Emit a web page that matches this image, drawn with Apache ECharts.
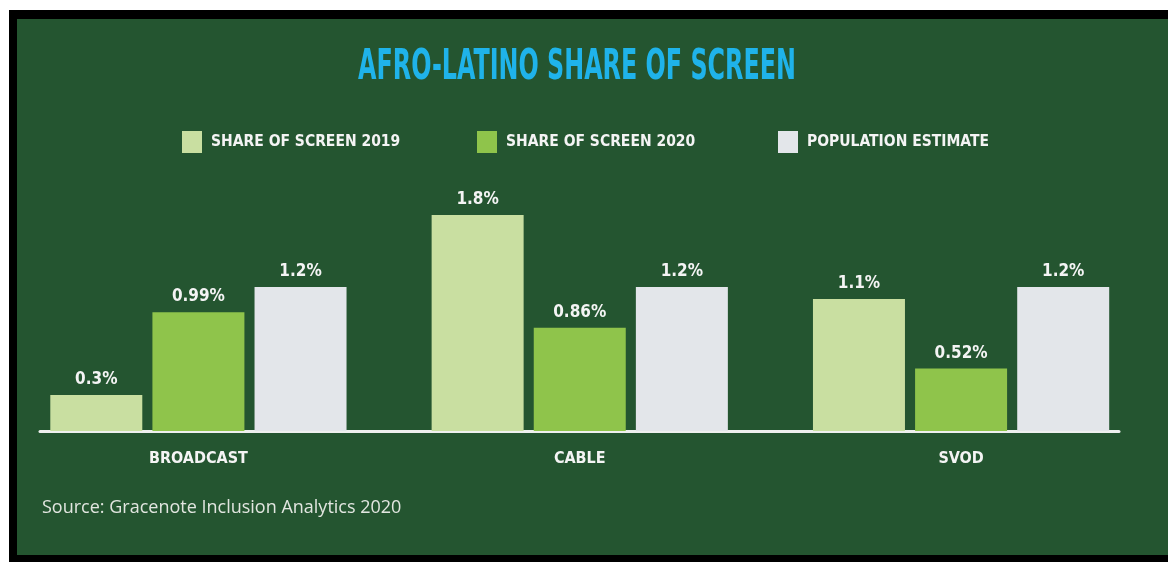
<!DOCTYPE html>
<html>
<head>
<meta charset="utf-8">
<script src="https://cdn.jsdelivr.net/npm/echarts@6/dist/echarts.min.js"></script>
<style>
html,body{margin:0;padding:0;background:#fff;}
#chart{width:1168px;height:562px;}
</style>
</head>
<body>
<div id="chart"></div>
<script>
const titleText = 'AFRO-LATINO SHARE OF SCREEN';
const sourceText = 'Source: Gracenote Inclusion Analytics 2020';
const categories = ['BROADCAST', 'CABLE', 'SVOD'];
const seriesNames = ['SHARE OF SCREEN 2019', 'SHARE OF SCREEN 2020', 'POPULATION ESTIMATE'];
const share2019 = [0.3, 1.8, 1.1];
const share2020 = [0.99, 0.86, 0.52];
const population = [1.2, 1.2, 1.2];

const NARROW = '"Liberation Sans Narrow","DejaVu Sans Condensed","Roboto Condensed",sans-serif';
const BG = '#245530';
const colors = ['#c9dfa1', '#8fc44b', '#e3e6ea'];
const seriesData = [share2019, share2020, population];

const chart = echarts.init(document.getElementById('chart'));

const legendLeft = [177, 472, 773];
const legends = seriesNames.map((n, i) => ({
  data: [n],
  left: legendLeft[i],
  top: 126,
  icon: 'rect',
  itemWidth: 20,
  itemHeight: 22,
  selectedMode: false,
  textStyle: {
    color: '#f4f4f4',
    fontFamily: NARROW,
    fontWeight: 'bold',
    fontSize: 15.5,
    padding: [0, 0, 0, 4]
  }
}));

const series = seriesNames.map((n, i) => ({
  name: n,
  type: 'bar',
  xAxisIndex: 0,
  yAxisIndex: 0,
  data: seriesData[i],
  barWidth: 92,
  barGap: '11%',
  itemStyle: { color: colors[i] },
  label: {
    show: true,
    position: 'top',
    distance: 7,
    formatter: p => p.value + '%',
    color: '#f4f4f4',
    fontFamily: NARROW,
    fontWeight: 'bold',
    fontSize: 17
  }
}));

chart.setOption({
  backgroundColor: '#ffffff',
  animation: false,
  graphic: [
    { type: 'rect', z: -10, shape: { x: 9, y: 10, width: 1159, height: 552 }, style: { fill: '#000' } },
    { type: 'rect', z: -9, shape: { x: 17, y: 19, width: 1151, height: 536 }, style: { fill: BG } },
    {
      type: 'text', x: 577, y: 68, scaleY: 1.6,
      style: {
        text: titleText, x: 0, y: 0,
        align: 'center', verticalAlign: 'middle',
        textAlign: 'center', textVerticalAlign: 'middle',
        font: 'bold 26.5px ' + NARROW, fill: '#1fb3ea'
      }
    },
    {
      type: 'text', x: 42, y: 508,
      style: {
        text: sourceText, x: 0, y: 0,
        align: 'left', verticalAlign: 'middle',
        textAlign: 'left', textVerticalAlign: 'middle',
        font: '18px "Open Sans", sans-serif', fill: '#e2e6e0'
      }
    }
  ],
  legend: legends,
  grid: [
    { left: 7.75, right: 16.25, top: 191, bottom: 131 },
    { left: 40, right: 49, top: 191, bottom: 131 }
  ],
  xAxis: [
    {
      type: 'category', gridIndex: 0, data: categories,
      axisLine: { show: false }, axisTick: { show: false },
      axisLabel: {
        margin: 20, color: '#f4f4f4',
        fontFamily: NARROW, fontWeight: 'bold', fontSize: 16
      }
    },
    {
      type: 'category', gridIndex: 1, data: categories, offset: 2,
      axisLine: { show: true, lineStyle: { color: '#eef0ee', width: 3 } },
      axisTick: { show: false }, axisLabel: { show: false }
    }
  ],
  yAxis: [
    { type: 'value', gridIndex: 0, min: 0, max: 2, show: false, splitLine: { show: false } },
    { type: 'value', gridIndex: 1, min: 0, max: 2, show: false, splitLine: { show: false } }
  ],
  series: series
});
</script>
</body>
</html>
